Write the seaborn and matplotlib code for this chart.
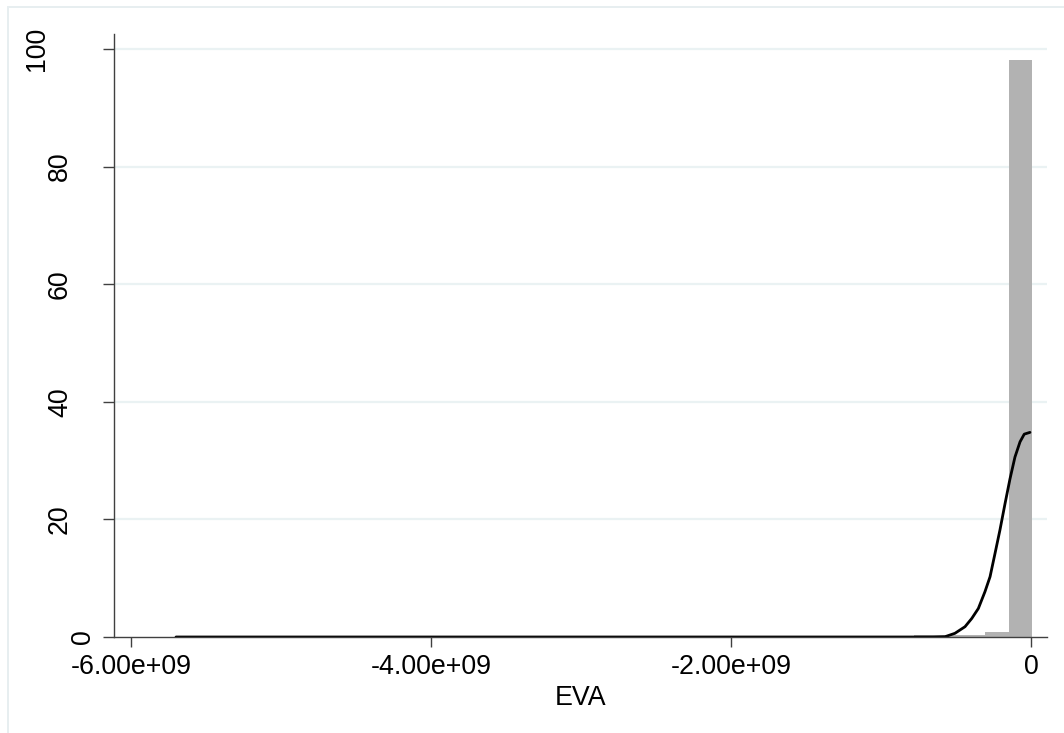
import numpy as np
import pandas as pd
import matplotlib
matplotlib.use("Agg")
import matplotlib.pyplot as plt
import matplotlib.transforms as mtransforms
from matplotlib.patches import Rectangle
import seaborn as sns

# ---- data ----
# histogram bins (EVA, in units of 1e9) and percentages
BIN_LEFT = [-0.778, -0.621, -0.464, -0.307, -0.150]
BIN_WIDTH = 0.157
BIN_PERCENT = [0.34, 0.34, 0.34, 0.77, 98.1]

# kernel density curve (scaled to percent), x in units of 1e9
KDE_X = [-5.70, -4.50, -3.00, -1.50, -0.80, -0.65, -0.573, -0.507, -0.44,
         -0.395, -0.351, -0.307, -0.273, -0.24, -0.207, -0.173, -0.14,
         -0.107, -0.073, -0.045, -0.007]
KDE_Y = [0.0, 0.0, 0.0, 0.0, 0.0, 0.0, 0.05, 0.63, 1.75,
         3.15, 4.85, 7.7, 10.25, 14.2, 18.2, 22.7, 26.9,
         30.6, 33.2, 34.5, 34.8]

X_TICKS = [-6.0, -4.0, -2.0, 0.0]
X_TICK_LABELS = ["-6.00e+09", "-4.00e+09", "-2.00e+09", "0"]
Y_TICKS = [0, 20, 40, 60, 80, 100]
Y_TICK_LABELS = ["0", "20", "40", "60", "80", "100"]
X_LABEL = "EVA"

# ---- style ----
sns.set_theme(style="white")
plt.rcParams["font.family"] = ["Liberation Sans", "DejaVu Sans"]
FS = 19.3
W, H = 1064, 733

fig = plt.figure(figsize=(W / 100, H / 100), dpi=100)
fig.patch.set_facecolor("white")
ax = fig.add_axes([114 / W, 1 - 637 / H, (1047 - 114) / W, (637 - 34) / H])
ax.set_facecolor("white")

# outer graph-region frame
fig.patches.append(Rectangle((8 / W, -0.2), 1.3, 1.2 - 7 / H,
                             transform=fig.transFigure, fill=False,
                             edgecolor="#e7eef0", linewidth=1.4, zorder=0))

edges = [b for b in BIN_LEFT] + [BIN_LEFT[-1] + BIN_WIDTH]
centers = [b + BIN_WIDTH / 2 for b in BIN_LEFT]
hist_df = pd.DataFrame({"x": centers, "w": BIN_PERCENT})
sns.histplot(data=hist_df, x="x", weights="w", bins=edges, stat="count",
             color="#b2b2b2", alpha=1.0, edgecolor="none", linewidth=0,
             ax=ax, zorder=2)

kde_df = pd.DataFrame({"x": KDE_X, "y": KDE_Y})
sns.lineplot(data=kde_df, x="x", y="y", color="black", linewidth=2.0,
             ax=ax, zorder=3)

ax.set_xlim((114 - 1031) / 150, (1047 - 1031) / 150)
ax.set_ylim(0, (637 - 34) / 5.88)

# grid lines (not at 0)
for yv in Y_TICKS[1:]:
    ax.axhline(yv, color="#eaf2f3", linewidth=1.6, zorder=1)
ax.set_axisbelow(True)

for s in ["top", "right"]:
    ax.spines[s].set_visible(False)
for s in ["left", "bottom"]:
    ax.spines[s].set_color("#404040")
    ax.spines[s].set_linewidth(1.0)
    ax.spines[s].set_zorder(4)

ax.set_xticks(X_TICKS)
ax.set_xticklabels(X_TICK_LABELS, fontsize=FS, color="black")
ax.set_yticks(Y_TICKS)
ax.tick_params(axis="x", length=7.5, width=1.0, color="#404040", pad=5,
               bottom=True)
ax.tick_params(axis="y", length=8, width=1.0, color="#404040",
               labelleft=False, left=True)

# rotated y tick labels, Stata-like placement
trans = mtransforms.blended_transform_factory(fig.transFigure, ax.transData)
for yv, lab in zip(Y_TICKS, Y_TICK_LABELS):
    xc = (83 - 23 * (len(lab) - 1)) / W
    ax.text(xc, yv, lab, transform=trans, rotation=90, ha="center",
            va="center", fontsize=FS, color="black", clip_on=False)

ax.set_xlabel(X_LABEL, fontsize=FS, color="black", labelpad=3)
ax.set_ylabel("")

fig.savefig("out.png", dpi=100, facecolor="white")
